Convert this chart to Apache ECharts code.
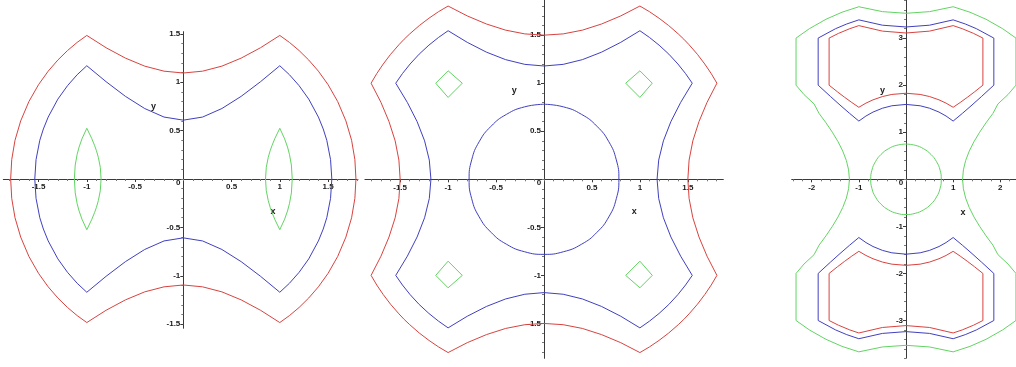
<!DOCTYPE html>
<html>
<head>
<meta charset="utf-8">
<script src="https://cdn.jsdelivr.net/npm/echarts@6/dist/echarts.min.js"></script>
<style>
  html, body { margin: 0; padding: 0; background: #fff; }
  #chart { width: 1016px; height: 367px; }
</style>
</head>
<body>
<div id="chart"></div>
<script>
// ---- tick labels ----
const ticksHalf = [-1.5, -1, -0.5, 0.5, 1, 1.5];
const ticksWideX = [-2, -1, 1, 2];
const ticksWideY = [-3, -2, -1, 1, 2, 3];

// ---- left plot: level curves of y^2 + |x^2 - 1| (first quadrant, from y-axis to x-axis) ----
const p1Red = [[0,1.095],[0.2,1.114],[0.4,1.166],[0.6,1.249],[0.8,1.356],[1.0,1.483],
  [1.1,1.411],[1.2,1.327],[1.3,1.229],[1.4,1.114],[1.5,0.975],[1.6,0.8],[1.685,0.6],
  [1.744,0.4],[1.778,0.2],[1.789,0]];
const p1Blue = [[0,0.608],[0.2,0.640],[0.4,0.728],[0.6,0.854],[0.8,1.005],[1.0,1.170],
  [1.1,1.077],[1.2,0.964],[1.3,0.825],[1.4,0.640],[1.45,0.517],[1.487,0.4],[1.526,0.2],[1.539,0]];
// upper half of the small lens around (1, 0), left tip to right tip
const p1LensHalf = [[0.852,0],[0.86,0.121],[0.88,0.222],[0.9,0.292],[0.92,0.348],[0.95,0.421],
  [1.0,0.524],[1.05,0.415],[1.08,0.330],[1.1,0.255],[1.12,0.144],[1.129,0]];

// ---- middle plot: |x^2 - 1| + |y^2 - 1| ----
const p2Red = [[0,1.5],[0.2,1.513],[0.4,1.552],[0.6,1.616],[0.8,1.7],[1.0,1.803],
  [1.1,1.744],[1.2,1.676],[1.3,1.6],[1.4,1.513],[1.458,1.458],[1.513,1.4],[1.6,1.3],
  [1.676,1.2],[1.744,1.1],[1.803,1.0],[1.7,0.8],[1.616,0.6],[1.552,0.4],[1.513,0.2],[1.5,0]];
const p2Blue = [[0,1.179],[0.2,1.196],[0.4,1.245],[0.6,1.323],[0.8,1.425],[1.0,1.546],
  [1.1,1.476],[1.2,1.396],[1.302,1.302],[1.396,1.2],[1.476,1.1],[1.546,1.0],[1.425,0.8],
  [1.323,0.6],[1.245,0.4],[1.196,0.2],[1.179,0]];
const p2Circle = [[0,0.781],[0.202,0.754],[0.391,0.676],[0.552,0.552],[0.676,0.391],[0.754,0.202],[0.781,0]];
const p2Diamond = [[1,1.129],[1.129,1],[1,0.852],[0.852,1],[1,1.129]];

// ---- right plot ----
const p3GreenOuter = [[0,3.527],[0.5,3.562],[1.0,3.666],[1.356,3.55],[1.697,3.4],[2.049,3.2],
  [2.332,3.0],[2.332,2.0],[2.163,1.8],[1.949,1.6],[1.844,1.4],[1.697,1.2],[1.562,1.0],
  [1.442,0.8],[1.342,0.6],[1.265,0.4],[1.217,0.2],[1.2,0]];
const p3GreenCircle = [[0,0.748],[0.194,0.723],[0.374,0.648],[0.529,0.529],[0.648,0.374],[0.723,0.194],[0.748,0]];
// right half of the upper loops, from the bottom centre round to the top centre
const p3BlueHalf = [[0,1.591],[0.3,1.562],[0.5,1.510],[0.7,1.428],[0.85,1.344],[1.0,1.237],
  [1.2,1.404],[1.4,1.578],[1.6,1.758],[1.863,2.0],[1.863,3.0],[1.493,3.2],[1.257,3.3],
  [1.0,3.387],[0.5,3.274],[0,3.236]];
const p3RedHalf = [[0,1.828],[0.3,1.803],[0.5,1.758],[0.7,1.688],[0.85,1.618],[1.0,1.530],
  [1.15,1.632],[1.3,1.741],[1.45,1.855],[1.631,2.0],[1.631,3.0],[1.432,3.1],[1.192,3.2],
  [1.0,3.265],[0.5,3.148],[0,3.108]];

// ---- styling / layout ----
const RED = '#d8433f', BLUE = '#4040c0', GREEN = '#62d462';
const AXIS = '#3a3a3a';
const LABEL_FONT = 'Liberation Sans, Arial, sans-serif';

const layouts = [
  { ox: 183.3, oy: 179.0, ux: 96.5, uy: 96.8, xr: [-1.865, 1.81], yr: [-1.542, 1.522],
    xt: ticksHalf, yt: ticksHalf, minor: 0.1, xName: [0.93, -0.34], yName: [-0.31, 0.747] },
  { ox: 544.0, oy: 179.3, ux: 95.9, uy: 96.1, xr: [-1.867, 1.87], yr: [-1.863, 1.87],
    xt: ticksHalf, yt: ticksHalf, minor: 0.1, xName: [0.94, -0.34], yName: [-0.31, 0.92] },
  { ox: 906.0, oy: 179.3, ux: 47.15, uy: 47.07, xr: [-2.424, 2.424], yr: [-3.80, 3.81],
    xt: ticksWideX, yt: ticksWideY, minor: 0.2, xName: [1.21, -0.70], yName: [-0.50, 1.88] }
];

// ---- geometry helpers (mirror read-off pieces into whole curves) ----
const flipX = pts => pts.map(([x, y]) => [-x, y]);
const flipY = pts => pts.map(([x, y]) => [x, -y]);
const rev = pts => pts.slice().reverse();
function fromQuarter(q) {
  return [...q, ...rev(flipY(q)).slice(1), ...flipX(flipY(q)).slice(1), ...rev(flipX(q)).slice(1)];
}
const closeAboutYAxis = half => [...half, ...rev(flipX(half)).slice(1)];
const closeAboutXAxis = half => [...half, ...rev(flipY(half)).slice(1)];

function tickRange(min, max, step) {
  const out = [];
  for (let k = Math.ceil(min / step - 1e-9); k * step <= max + 1e-9; k++) out.push(+(k * step).toFixed(4));
  return out;
}

const grids = [], xAxes = [], yAxes = [];
layouts.forEach(L => {
  const rect = {
    left: L.ox + L.xr[0] * L.ux,
    width: (L.xr[1] - L.xr[0]) * L.ux,
    top: L.oy - L.yr[1] * L.uy,
    height: (L.yr[1] - L.yr[0]) * L.uy
  };
  // axes sit on the zero lines: shift them in from the grid edges
  const xOff = -(rect.top + rect.height - L.oy);
  const yOff = -(L.ox - rect.left);
  const gMain = grids.length;
  const gridBase = { containLabel: false, outerBoundsMode: 'none', show: false };
  grids.push(Object.assign({}, gridBase, rect));
  grids.push(Object.assign({}, gridBase, rect));
  const labelStyle = { fontSize: 8, fontWeight: 'bold', fontFamily: LABEL_FONT, color: '#1a1a1a', hideOverlap: false };
  // main axes: line, minor ticks, labels
  xAxes.push({ type: 'value', gridIndex: gMain, min: L.xr[0], max: L.xr[1], position: 'bottom', offset: xOff,
    axisLine: { show: true, onZero: false, lineStyle: { color: AXIS, width: 1 } },
    axisTick: { show: true, length: 2, customValues: tickRange(L.xr[0], L.xr[1], L.minor), lineStyle: { color: '#777', width: 1 } },
    axisLabel: Object.assign({ show: true, customValues: L.xt, margin: 4, formatter: v => String(v) }, labelStyle),
    splitLine: { show: false } });
  yAxes.push({ type: 'value', gridIndex: gMain, min: L.yr[0], max: L.yr[1], position: 'left', offset: yOff,
    axisLine: { show: true, onZero: false, lineStyle: { color: AXIS, width: 1 } },
    axisTick: { show: true, length: 2, customValues: tickRange(L.yr[0], L.yr[1], L.minor), lineStyle: { color: '#777', width: 1 } },
    axisLabel: Object.assign({ show: true, customValues: L.yt, margin: 3, formatter: v => String(v) }, labelStyle),
    splitLine: { show: false } });
  // overlay axes: slightly longer major ticks
  xAxes.push({ type: 'value', gridIndex: gMain + 1, min: L.xr[0], max: L.xr[1], position: 'bottom', offset: xOff,
    axisLine: { show: false, onZero: false },
    axisTick: { show: true, length: 3, customValues: L.xt, lineStyle: { color: AXIS, width: 1 } },
    axisLabel: { show: false }, splitLine: { show: false } });
  yAxes.push({ type: 'value', gridIndex: gMain + 1, min: L.yr[0], max: L.yr[1], position: 'left', offset: yOff,
    axisLine: { show: false, onZero: false },
    axisTick: { show: true, length: 3, customValues: L.yt, lineStyle: { color: AXIS, width: 1 } },
    axisLabel: { show: false }, splitLine: { show: false } });
});

function curve(panel, pts, color, smooth) {
  const idx = panel * 2;
  return { type: 'line', xAxisIndex: idx, yAxisIndex: idx, data: pts, showSymbol: false, symbol: 'none',
    smooth: !!smooth, silent: true, animation: false, clip: true,
    lineStyle: { color: color, width: 1 }, z: 3 };
}

const lensR = closeAboutXAxis(p1LensHalf);
const blueTop = closeAboutYAxis(p3BlueHalf);
const redTop = closeAboutYAxis(p3RedHalf);

const series = [
  curve(0, fromQuarter(p1Red), RED),
  curve(0, fromQuarter(p1Blue), BLUE),
  curve(0, lensR, GREEN),
  curve(0, flipX(lensR), GREEN),

  curve(1, fromQuarter(p2Red), RED),
  curve(1, fromQuarter(p2Blue), BLUE),
  curve(1, fromQuarter(p2Circle), BLUE, true),
  curve(1, p2Diamond, GREEN),
  curve(1, flipX(p2Diamond), GREEN),
  curve(1, flipY(p2Diamond), GREEN),
  curve(1, flipX(flipY(p2Diamond)), GREEN),

  curve(2, fromQuarter(p3GreenOuter), GREEN),
  curve(2, fromQuarter(p3GreenCircle), GREEN, true),
  curve(2, blueTop, BLUE),
  curve(2, flipY(blueTop), BLUE),
  curve(2, redTop, RED),
  curve(2, flipY(redTop), RED)
];

const chart = echarts.init(document.getElementById('chart'), null, { renderer: 'canvas' });
chart.setOption({
  backgroundColor: '#ffffff',
  animation: false,
  grid: grids,
  xAxis: xAxes,
  yAxis: yAxes,
  series: series
});

// origin "0" labels and the x / y axis names
const texts = [];
layouts.forEach((L, i) => {
  const g = { gridIndex: i * 2 };
  const o = chart.convertToPixel(g, [0, 0]);
  texts.push({ type: 'text', x: o[0] - 5, y: o[1] + 3.5, silent: true,
    style: { text: '0', fill: '#1a1a1a', font: 'bold 8px ' + LABEL_FONT, align: 'center', verticalAlign: 'middle' } });
  const px = chart.convertToPixel(g, L.xName);
  const py = chart.convertToPixel(g, L.yName);
  texts.push({ type: 'text', x: px[0], y: px[1], silent: true,
    style: { text: 'x', fill: '#1a1a1a', font: 'bold 9px ' + LABEL_FONT, align: 'center', verticalAlign: 'middle' } });
  texts.push({ type: 'text', x: py[0], y: py[1], silent: true,
    style: { text: 'y', fill: '#1a1a1a', font: 'bold 9px ' + LABEL_FONT, align: 'center', verticalAlign: 'middle' } });
});
chart.setOption({ graphic: texts });
</script>
</body>
</html>
